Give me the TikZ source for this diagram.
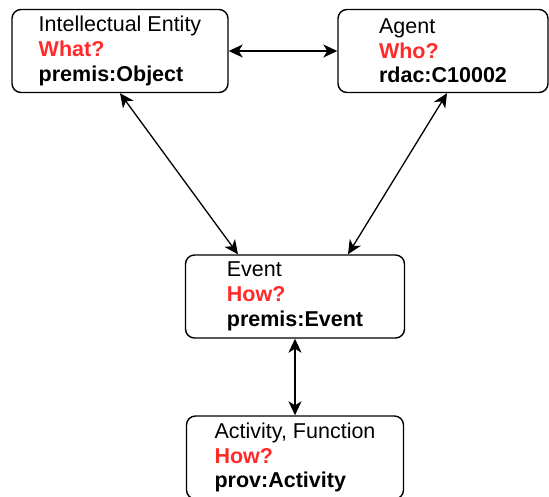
\documentclass[tikz,border=0pt]{standalone}
\usepackage{fontspec}
\setmainfont{Liberation Sans}
\usepackage{tikz}
\usetikzlibrary{arrows.meta, calc}
\definecolor{qred}{HTML}{FF2A2A}

\begin{document}
\begin{tikzpicture}[x=1pt, y=-1pt,
        box/.style={draw, line width=1.4pt, rounded corners=9pt, inner sep=0pt, align=left,
            minimum height=83pt, font=\fontsize{21.5}{24.7}\selectfont},
        link/.style={{Stealth[length=14pt,width=13pt,inset=4pt]}-{Stealth[length=14pt,width=13pt,inset=4pt]}, line width=1.3pt}]
        \useasboundingbox (0,0) rectangle (549,496);

        \coordinate (e) at (120,51);
        \coordinate (a) at (443,51);
        \coordinate (v) at (295,296.5);
        \coordinate (f) at (295,457.5);

        \node[box, minimum width=216pt] (entity) at (e) {Intellectual Entity\\\textcolor{qred}{\textbf{What?}}\\\textbf{premis:Object}};
        \node[box, minimum width=210pt] (agent) at (a) {Agent\\\textcolor{qred}{\textbf{Who?}}\\\textbf{rdac:C10002}};
        \node[box, minimum width=219pt] (event) at (v) {Event\\\textcolor{qred}{\textbf{How?}}\\\textbf{premis:Event}};
        \node[box, minimum width=217pt] (activity) at (f) {Activity, Function\\\textcolor{qred}{\textbf{How?}}\\\textbf{prov:Activity}};

        \draw[link] (entity.east) -- (agent.west);
        \draw[link] (entity.south) -- ($(event.north)+(-57,0)$);
        \draw[link] ($(agent.south)+(4,0)$) -- ($(event.north)+(53,0)$);
        \draw[link] (event.south) -- (activity.north);

    \end{tikzpicture}
\end{document}
